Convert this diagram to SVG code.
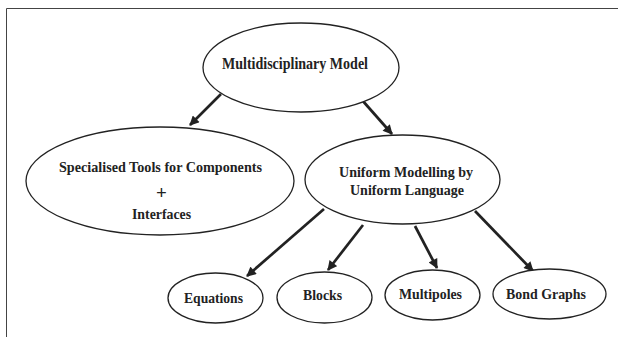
<svg xmlns="http://www.w3.org/2000/svg" width="618" height="337" viewBox="0 0 618 337">
<defs>
<marker id="ah" viewBox="0 0 10 10" refX="9" refY="5" markerWidth="4" markerHeight="3.6" markerUnits="strokeWidth" orient="auto">
<path d="M0,0 L10,5 L0,10 Z" fill="#222"/>
</marker>
<style>
.n{fill:#fff;stroke:#222;stroke-width:1.3}
.t{font-family:"Liberation Serif","Times New Roman",serif;font-weight:bold;font-size:15px;fill:#222;text-anchor:middle}
.c{stroke:#222;stroke-width:2.7;fill:none;marker-end:url(#ah)}
</style>
</defs>
<rect width="618" height="337" fill="#fff"/>
<path d="M6.5,337 V8.5 H618" fill="none" stroke="#444" stroke-width="1"/>
<g id="connectors">
<line class="c" x1="221" y1="94" x2="190" y2="125"/>
<line class="c" x1="362" y1="100" x2="392" y2="134"/>
<line class="c" x1="324" y1="209" x2="247" y2="276"/>
<line class="c" x1="363" y1="225" x2="328" y2="270"/>
<line class="c" x1="415" y1="226" x2="437" y2="268"/>
<line class="c" x1="475" y1="211" x2="533" y2="271"/>
</g>
<g id="n-multi">
<ellipse class="n" cx="301" cy="67.5" rx="98" ry="44.5"/>
<text class="t" x="295" y="68.5" style="font-size:16px" textLength="146" lengthAdjust="spacingAndGlyphs">Multidisciplinary Model</text>
</g>
<g id="n-special">
<ellipse class="n" cx="160" cy="181" rx="134" ry="54"/>
<text class="t" x="160.5" y="172" textLength="203" lengthAdjust="spacingAndGlyphs">Specialised Tools for Components</text>
<text class="t" x="161.5" y="198.5" style="font-size:19px">+</text>
<text class="t" x="161.5" y="218.5" textLength="59" lengthAdjust="spacingAndGlyphs">Interfaces</text>
</g>
<g id="n-uniform">
<ellipse class="n" cx="402.5" cy="179.5" rx="97.5" ry="44.5"/>
<text class="t" x="406" y="177" textLength="134" lengthAdjust="spacingAndGlyphs">Uniform Modelling by</text>
<text class="t" x="407" y="194.5" textLength="114" lengthAdjust="spacingAndGlyphs">Uniform Language</text>
</g>
<g id="n-equations">
<ellipse class="n" cx="215.5" cy="298" rx="47.5" ry="25"/>
<text class="t" x="213.5" y="303" textLength="59" lengthAdjust="spacingAndGlyphs">Equations</text>
</g>
<g id="n-blocks">
<ellipse class="n" cx="324.5" cy="297.5" rx="47.5" ry="25.5"/>
<text class="t" x="322.5" y="300" textLength="39" lengthAdjust="spacingAndGlyphs">Blocks</text>
</g>
<g id="n-multipoles">
<ellipse class="n" cx="432.5" cy="295" rx="47.5" ry="25"/>
<text class="t" x="430.5" y="299" textLength="63" lengthAdjust="spacingAndGlyphs">Multipoles</text>
</g>
<g id="n-bond">
<ellipse class="n" cx="549.5" cy="294" rx="56.5" ry="25"/>
<text class="t" x="546" y="299" textLength="80" lengthAdjust="spacingAndGlyphs">Bond Graphs</text>
</g>
</svg>
